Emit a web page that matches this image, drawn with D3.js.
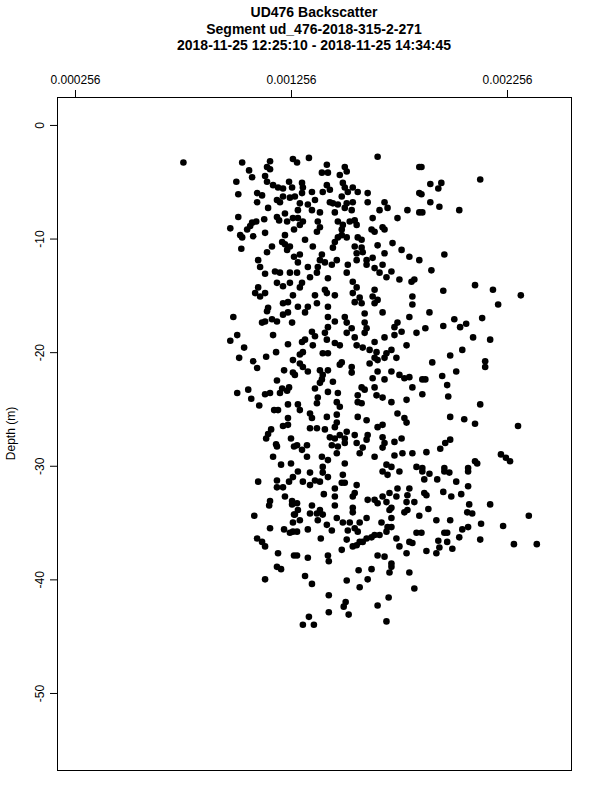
<!DOCTYPE html>
<html>

<head>
    <meta charset="UTF-8">
    <title>UD476 Backscatter</title>
    <style>
        body { margin: 0; background: #fff; }
        svg text { font-family: "Liberation Sans", Arial, Helvetica, sans-serif; fill: #000; }
    </style>
</head>

<body>
    <svg width="600" height="800"></svg>
    <script src="https://cdn.jsdelivr.net/npm/d3@7"></script>
    <script>
        const titleLines = [
            "UD476 Backscatter",
            "Segment ud_476-2018-315-2-271",
            "2018-11-25 12:25:10 - 2018-11-25 14:34:45"
        ];
        const xTicks = [0.000256, 0.001256, 0.002256];
        const yTicks = [0, -10, -20, -30, -40, -50];
        const yLabel = "Depth (m)";

        // backscatter value of each echo (band by band)
        const backscatter = [
            // 0 to -16 m, left part
            0.000758,0.001030,0.001159,0.001265,0.001062,0.001145,0.001159,0.001076,0.001136,0.001003,
            0.001145,0.001173,0.001196,0.001219,0.001247,0.001261,0.001012,0.001099,0.001122,0.001191,
            0.001219,0.001251,0.001099,0.001150,0.001205,0.001012,0.001076,0.001067,0.001095,0.001132,
            0.001191,0.001201,0.001228,0.001238,0.001265,0.000975,0.001053,0.001021,0.001030,0.001081,
            0.001136,0.001228,0.001270,0.001026,0.001145,0.001168,0.001215,0.001228,0.001238,0.001251,
            0.001270,0.001104,0.001113,0.001136,0.001182,0.001205,0.001251,0.001191,0.001219,0.001251,
            0.001104,0.001090,0.001113,0.001136,0.001242,0.001219,0.001150,0.001265,
            // 0 to -16 m, middle
            0.001284,0.001339,0.001657,0.001422,0.001399,0.001427,0.001505,0.001514,0.001482,0.001850,
            0.001307,0.001311,0.001353,0.001422,0.001403,0.001436,0.001496,0.001505,0.001519,0.001491,
            0.001542,0.001565,0.001307,0.001274,0.001611,0.001297,0.001288,0.001334,0.001367,0.001353,
            0.001390,0.001436,0.001450,0.001473,0.001459,0.001505,0.001514,0.001542,0.001537,0.001611,
            0.001689,0.001666,0.001703,0.001634,0.001749,0.001795,0.001850,0.001850,0.001288,0.001297,
            0.001311,0.001380,0.001390,0.001376,0.001473,0.001496,0.001491,0.001528,0.001551,0.001560,
            0.001629,0.001643,0.001680,0.001689,0.001491,0.001473,0.001459,0.001514,0.001565,0.001583,
            0.001321,0.001357,0.001450,0.001551,0.001583,0.001588,0.001560,0.001657,0.001689,0.001726,
            0.001768,0.001804,0.001850,0.001297,0.001288,0.001334,0.001344,0.001390,0.001380,0.001376,
            0.001399,0.001413,0.001445,0.001468,0.001519,0.001560,0.001606,0.001606,0.001634,0.001643,
            0.001680,0.001666,0.001698,0.001721,0.001758,0.001814,0.001827,0.001284,0.001307,0.001297,
            0.001367,0.001376,0.001413,0.001422,0.001427,0.001459,0.001514,0.001542,0.001560,0.001542,
            0.001551,0.001574,0.001583,0.001643,0.001634,0.001643,0.001657,0.001818,0.001818,0.001288,
            0.001334,0.001427,
            // 0 to -16 m, right part
            0.001860,0.001901,0.001952,0.001938,0.001860,0.001901,0.001943,0.001864,0.002035,0.002132,
            0.001966,0.001906,0.001961,0.002108,0.002191,0.002320,0.002215,
            // -16 to -30 m, left part
            0.000989,0.001145,0.001122,0.001136,0.001168,0.001191,0.001219,0.001242,0.001261,0.001007,
            0.000975,0.001173,0.001039,0.001242,0.001187,0.001016,0.001081,0.001141,0.001099,0.001265,
            0.001224,0.001265,0.001191,0.001007,0.001058,0.001072,0.001136,0.001159,0.001205,0.001215,
            0.001238,0.001247,0.001109,0.001178,0.001196,0.001242,0.001242,0.001219,0.001242,0.001164,
            0.001150,0.001141,0.001256,0.001187,0.001191,0.001270,0.001173,0.001210,0.001256,
            // -16 to -30 m, middle
            0.001321,0.001427,0.001505,0.001597,0.001680,0.001804,0.001459,0.001514,0.001537,0.001597,
            0.001606,0.001427,0.001413,0.001422,0.001353,0.001367,0.001307,0.001321,0.001514,0.001551,
            0.001597,0.001643,0.001689,0.001735,0.001749,0.001768,0.001837,0.001735,0.001791,0.001357,
            0.001459,0.001482,0.001560,0.001588,0.001620,0.001652,0.001698,0.001721,0.001744,0.001311,
            0.001297,0.001403,0.001427,0.001491,0.001482,0.001537,0.001537,0.001620,0.001643,0.001657,
            0.001689,0.001297,0.001311,0.001334,0.001390,0.001427,0.001403,0.001399,0.001450,0.001390,
            0.001367,0.001657,0.001721,0.001634,0.001689,0.001758,0.001781,0.001804,0.001818,0.001274,
            0.001583,0.001597,0.001643,0.001427,0.001473,0.001565,0.001652,0.001680,0.001721,0.001791,
            0.001380,0.001376,0.001468,0.001482,0.001565,0.001583,0.001288,0.001297,0.001344,0.001353,
            0.001422,0.001468,0.001468,0.001565,0.001606,0.001657,0.001680,0.001749,0.001781,0.001791,
            0.001344,0.001376,0.001413,0.001459,0.001436,0.001459,0.001482,0.001514,0.001505,0.001551,
            0.001611,0.001606,0.001680,0.001689,0.001680,0.001768,0.001735,0.001284,0.001307,0.001330,
            0.001445,0.001473,0.001468,0.001505,0.001560,0.001588,0.001574,0.001330,0.001399,0.001427,
            0.001403,0.001505,0.001643,0.001735,0.001772,0.001818,0.001698,0.001721,0.001837,
            // -16 to -30 m, right part
            0.001897,0.002012,0.002141,0.001878,0.001961,0.002039,0.002067,0.002099,0.002178,0.002049,
            0.001993,0.001910,0.002155,0.002155,0.002021,0.001956,0.001864,0.001878,0.001979,0.001864,
            0.001984,0.002132,0.001993,0.002058,0.002108,0.002307,0.001993,0.001970,0.001947,0.001883,
            0.002228,0.002251,0.002270,0.002108,0.002118,0.001864,0.001966,0.002076,
            // below -30 m, left part
            0.001104,0.001191,0.001191,0.001219,0.001247,0.001265,0.001228,0.001159,0.001155,0.001261,
            0.001261,0.001086,0.001270,0.001265,0.001159,0.001224,0.001251,0.001265,0.001099,0.001122,
            0.001136,0.001196,0.001270,0.001191,0.001210,0.001136,
            // below -30 m, middle
            0.001288,0.001344,0.001403,0.001427,0.001496,0.001491,0.001505,0.001560,0.001680,0.001703,
            0.001758,0.001311,0.001344,0.001367,0.001390,0.001459,0.001459,0.001408,0.001551,0.001542,
            0.001611,0.001643,0.001657,0.001680,0.001698,0.001712,0.001749,0.001744,0.001804,0.001795,
            0.001791,0.001827,0.001795,0.001781,0.001721,0.001712,0.001284,0.001288,0.001274,0.001353,
            0.001344,0.001376,0.001390,0.001403,0.001380,0.001459,0.001542,0.001542,0.001297,0.001468,
            0.001422,0.001445,0.001496,0.001519,0.001528,0.001551,0.001565,0.001574,0.001606,0.001675,
            0.001698,0.001703,0.001721,0.001721,0.001666,0.001643,0.001629,0.001574,0.001588,0.001606,
            0.001560,0.001542,0.001514,0.001491,0.001284,0.001334,0.001394,0.001744,0.001758,0.001804,
            0.001818,0.001837,0.001791,0.001284,0.001334,0.001427,0.001431,0.001657,0.001689,0.001721,
            0.001721,0.001569,0.001629,0.001712,0.001804,0.001321,0.001353,0.001514,0.001611,0.001574,
            0.001827,0.001431,0.001509,0.001500,0.001708,0.001657,0.001431,0.001523,0.001339,0.001311,
            0.001362,0.001698,
            // below -30 m, right part
            0.001864,0.001897,0.001966,0.001989,0.002076,0.001873,0.001933,0.002021,0.002076,0.001873,
            0.001883,0.001961,0.001998,0.002044,0.002081,0.002178,0.001892,0.002072,0.002095,0.001929,
            0.001993,0.002136,0.002238,0.002357,0.001850,0.001860,0.001966,0.001979,0.002049,0.002076,
            0.002035,0.002132,0.002288,0.002394,0.001938,0.001979,0.001883,0.001943,0.002003,0.001929
        ];

        // depth (m) of each echo, same order as backscatter
        const depth = [
            -3.3,-3.3,-3.2,-3.0,-4.0,-3.7,-3.9,-4.6,-4.5,-5.0,
            -5.0,-5.3,-5.5,-5.6,-5.0,-5.5,-6.1,-6.0,-6.2,-6.6,
            -6.3,-6.4,-6.8,-7.3,-6.8,-8.1,-8.6,-8.9,-8.5,-8.3,
            -8.1,-8.4,-7.8,-8.5,-8.2,-9.1,-9.2,-9.7,-9.9,-9.8,
            -9.5,-9.7,-9.2,-10.9,-11.2,-10.7,-10.3,-10.5,-11.0,-10.7,
            -11.6,-11.9,-12.5,-13.1,-12.9,-13.0,-13.0,-13.9,-14.2,-13.9,
            -14.3,-14.8,-15.1,-14.8,-15.6,-15.7,-16.1,-15.0,

            -3.3,-2.9,-2.8,-3.5,-4.2,-4.2,-3.7,-4.1,-4.4,-3.7,
            -5.1,-5.5,-5.9,-5.3,-5.9,-5.7,-5.1,-5.5,-5.9,-6.3,
            -5.5,-5.9,-6.0,-6.3,-6.0,-6.9,-7.5,-7.0,-6.6,-7.5,
            -7.7,-6.8,-6.9,-7.0,-7.7,-7.3,-6.9,-6.8,-7.5,-6.8,
            -6.8,-7.5,-7.3,-8.2,-8.2,-7.5,-6.0,-7.7,-8.2,-8.8,
            -8.5,-8.5,-9.0,-9.4,-8.5,-8.8,-9.2,-8.5,-8.4,-8.8,
            -9.2,-9.4,-9.0,-9.2,-9.7,-9.9,-10.3,-9.9,-9.9,-10.1,
            -10.1,-10.7,-10.8,-10.7,-10.8,-11.2,-11.3,-10.6,-11.3,-10.4,
            -11.0,-11.6,-11.9,-11.4,-12.1,-12.5,-13.4,-11.9,-12.5,-13.0,
            -11.4,-12.1,-12.3,-11.9,-12.3,-11.9,-11.9,-12.3,-11.7,-12.6,
            -12.3,-13.0,-13.4,-12.9,-13.6,-13.8,-13.6,-13.0,-13.9,-14.3,
            -15.0,-15.7,-14.5,-14.8,-13.5,-15.0,-13.0,-13.8,-14.3,-14.8,
            -15.6,-15.2,-15.7,-14.5,-15.1,-15.7,-15.4,-15.1,-15.8,-16.0,
            -16.0,-16.0,

            -3.7,-5.2,-5.1,-5.6,-6.1,-6.8,-7.2,-7.7,-7.5,-4.8,
            -11.4,-12.8,-14.6,-14.1,-14.5,-15.0,-15.8,

            -16.9,-16.4,-17.4,-17.3,-17.1,-17.3,-16.7,-16.5,-17.4,-18.5,
            -19.0,-18.5,-19.6,-19.3,-20.0,-20.5,-20.8,-20.4,-21.4,-20.7,
            -21.6,-21.8,-22.5,-23.6,-23.3,-24.1,-23.7,-23.6,-23.6,-23.2,
            -23.4,-23.1,-24.7,-25.1,-25.1,-24.6,-25.8,-26.5,-26.4,-26.8,
            -27.2,-27.6,-27.6,-28.1,-28.3,-28.3,-29.2,-29.9,-29.8,

            -16.5,-16.9,-16.9,-16.6,-16.5,-16.9,-17.3,-17.4,-17.9,-17.4,
            -17.9,-17.8,-18.3,-18.9,-18.2,-18.6,-19.1,-18.9,-18.3,-18.7,
            -18.3,-19.1,-18.7,-17.8,-17.4,-18.2,-18.3,-18.5,-19.4,-19.4,
            -19.2,-19.4,-19.4,-19.6,-19.8,-20.0,-20.1,-19.8,-20.5,-20.0,
            -20.2,-20.1,-20.1,-20.9,-21.1,-21.3,-21.8,-21.0,-20.5,-20.7,
            -20.5,-21.0,-21.3,-21.7,-21.6,-21.6,-22.0,-22.4,-22.6,-22.7,
            -23.2,-21.7,-21.7,-22.3,-22.4,-22.0,-22.3,-22.2,-23.1,-22.0,
            -23.1,-23.3,-23.1,-23.5,-23.6,-23.8,-23.8,-24.0,-24.4,-24.2,
            -24.0,-24.5,-24.4,-24.8,-24.4,-24.5,-24.6,-25.1,-25.4,-25.8,
            -25.7,-25.5,-26.2,-25.7,-26.0,-26.6,-26.4,-25.4,-25.8,-26.2,
            -26.7,-26.7,-26.8,-26.6,-27.5,-27.6,-27.3,-27.0,-27.6,-27.3,
            -27.3,-27.7,-27.5,-28.0,-28.4,-27.6,-27.9,-28.2,-28.6,-28.2,
            -28.2,-28.3,-28.9,-28.0,-28.0,-28.4,-28.9,-29.2,-29.2,-29.5,
            -30.1,-29.8,-29.2,-29.1,-28.9,-28.9,-29.9,-30.1,-30.1,

            -16.5,-17.1,-17.0,-17.9,-17.7,-17.8,-17.5,-18.7,-18.9,-19.8,
            -20.3,-20.9,-20.8,-21.3,-21.7,-22.1,-22.4,-22.4,-22.9,-23.7,
            -23.9,-24.6,-25.7,-25.9,-26.3,-26.5,-27.7,-28.0,-28.5,-28.8,
            -29.0,-29.3,-29.6,-29.6,-29.8,-30.2,-30.2,-30.2,

            -31.4,-31.3,-31.9,-31.9,-31.4,-31.0,-32.7,-33.1,-33.5,-33.1,
            -33.4,-34.4,-34.3,-35.0,-35.5,-35.6,-35.9,-35.8,-36.4,-36.7,
            -37.1,-37.7,-37.9,-38.9,-39.1,-40.0,

            -30.5,-30.6,-30.6,-31.0,-30.8,-31.5,-31.5,-31.7,-30.5,-30.8,
            -30.5,-31.4,-31.7,-31.3,-31.4,-32.0,-32.7,-32.5,-32.4,-32.7,
            -33.0,-33.0,-33.3,-32.7,-33.2,-32.4,-32.0,-32.7,-32.0,-32.6,
            -33.2,-33.2,-33.9,-34.1,-33.7,-33.9,-33.3,-33.9,-34.3,-33.5,
            -34.2,-34.2,-33.9,-34.3,-34.8,-33.5,-33.7,-34.1,-34.8,-34.6,
            -35.2,-35.7,-35.0,-35.7,-35.0,-35.5,-35.8,-35.0,-34.6,-35.0,
            -35.8,-35.4,-35.4,-34.6,-36.1,-36.1,-36.3,-36.7,-36.7,-36.4,
            -37.0,-37.1,-36.5,-37.4,-35.8,-35.6,-36.4,-36.4,-37.1,-36.7,
            -36.8,-35.9,-37.7,-37.9,-38.1,-37.9,-38.4,-37.9,-38.0,-38.6,
            -38.9,-39.2,-39.1,-39.4,-39.4,-39.7,-40.4,-40.1,-40.0,-40.7,
            -40.8,-41.4,-42.0,-42.4,-41.6,-42.3,-42.9,-43.1,-43.3,-44.0,
            -44.0,-43.7,

            -30.5,-30.7,-30.5,-30.6,-30.5,-31.2,-31.2,-31.4,-31.8,-32.4,
            -32.6,-32.3,-32.7,-32.5,-33.4,-33.4,-33.8,-34.1,-34.2,-34.8,
            -34.8,-35.1,-35.3,-34.4,-34.4,-35.9,-35.9,-35.9,-35.6,-35.4,
            -36.3,-36.5,-36.9,-36.9,-36.6,-36.7,-37.5,-37.2,-37.3,-37.7
        ];

        const svg = d3.select("svg"),
            box = { left: 57, right: 571, top: 97, bottom: 770 },
            x = d3.scaleLinear().domain([0.0001727, 0.0025523]).range([box.left, box.right]),
            y = d3.scaleLinear().domain([2.46, -56.78]).range([box.top, box.bottom]);

        const points = backscatter.map((v, i) => ({ v: v, d: depth[i] }));

        svg.append("rect")
            .attr("width", 600).attr("height", 800)
            .attr("fill", "#fff");

        // title, three lines
        svg.append("g")
            .selectAll("text")
            .data(titleLines)
            .enter().append("text")
            .attr("x", (box.left + box.right) / 2)
            .attr("y", (d, i) => 17 + i * 16.5)
            .attr("text-anchor", "middle")
            .style("font-size", "14px")
            .style("font-weight", "bold")
            .text(d => d);

        // top axis
        const gx = svg.append("g")
            .attr("transform", `translate(0,${box.top})`)
            .call(d3.axisTop(x).tickValues(xTicks).tickFormat(d3.format(".6f")).tickSize(7).tickPadding(6));
        gx.select(".domain").remove();
        gx.selectAll("text").style("font-size", "12px").attr("font-family", null);

        // left axis, labels turned
        const gy = svg.append("g")
            .attr("transform", `translate(${box.left},0)`)
            .call(d3.axisLeft(y).tickValues(yTicks).tickFormat(d => String(d)).tickSize(7));
        gy.select(".domain").remove();
        gy.selectAll("text")
            .style("font-size", "12px")
            .attr("font-family", null)
            .attr("transform", "rotate(-90)")
            .attr("x", 0)
            .attr("y", -13)
            .attr("dy", 0)
            .attr("text-anchor", "middle");

        svg.append("text")
            .attr("transform", `translate(15,${(box.top + box.bottom) / 2}) rotate(-90)`)
            .attr("text-anchor", "middle")
            .style("font-size", "12px")
            .text(yLabel);

        // frame
        svg.append("rect")
            .attr("x", box.left + 0.5)
            .attr("y", box.top + 0.5)
            .attr("width", box.right - box.left)
            .attr("height", box.bottom - box.top)
            .attr("fill", "none")
            .attr("stroke", "#000");

        svg.append("g")
            .selectAll("circle")
            .data(points)
            .enter().append("circle")
            .attr("cx", d => x(d.v))
            .attr("cy", d => y(d.d))
            .attr("r", 3.3)
            .attr("fill", "#000");
    </script>
</body>

</html>
